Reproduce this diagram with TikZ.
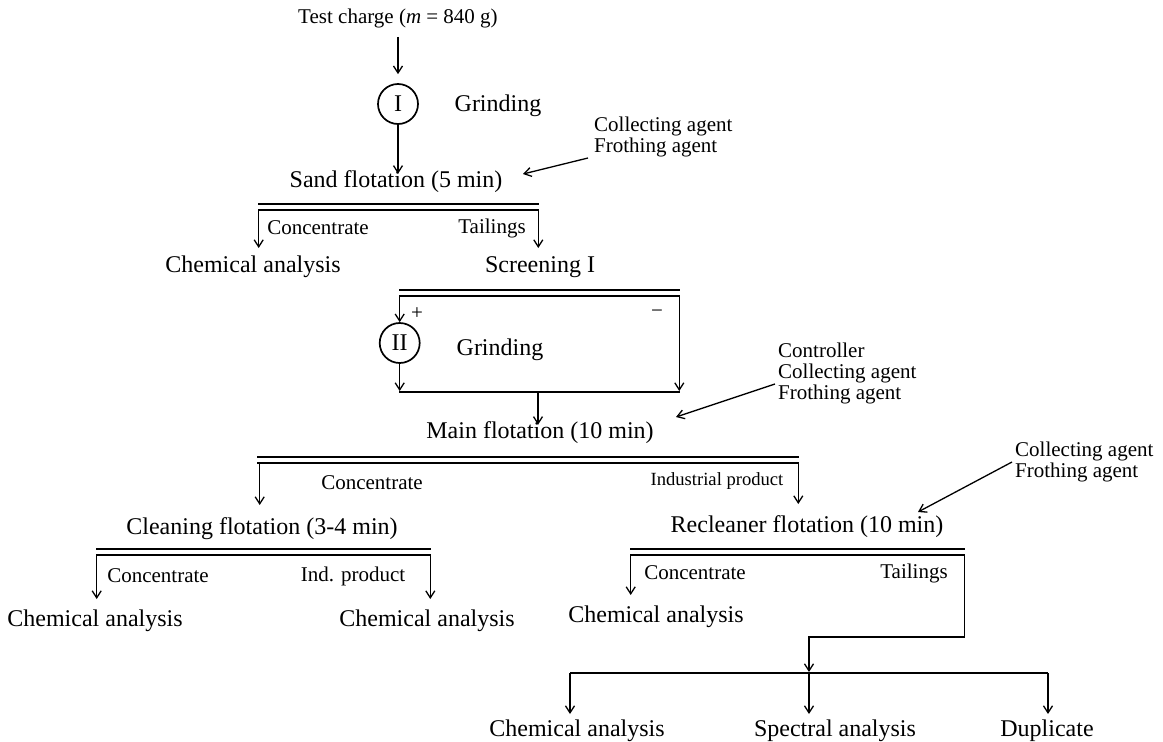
\documentclass[tikz,border=0pt]{standalone}
\usepackage{fontspec}
\setmainfont{Liberation Serif}
\usetikzlibrary{arrows.meta}
\begin{document}
\begin{tikzpicture}[x=1pt,y=-1pt,
  big/.style={font=\fontsize{24}{28}\selectfont, inner sep=0pt},
  lab/.style={font=\fontsize{21}{24}\selectfont, inner sep=0pt},
  labs/.style={font=\fontsize{18.6}{22}\selectfont, inner sep=0pt},
  agent/.style={font=\fontsize{21}{21}\selectfont, inner sep=0pt, align=left, anchor=west},
  flow/.style={line width=1.3pt, -{Straight Barb[length=7pt,width=9pt]}},
  link/.style={line width=1.3pt},
  barA/.style={line width=2.8pt},
  barB/.style={line width=2pt},
  mill/.style={circle, draw, line width=1.7pt, minimum size=40pt, inner sep=0pt, font=\fontsize{24}{28}\selectfont}
]
\useasboundingbox (0,0) rectangle (1163,742);

% ---------- top ----------
\node[lab] (test) at (398,18) {Test charge (\textit{m} = 840 g)};
\node[mill] (m1) at (398,104) {I};
\node[big] (g1) at (498,106) {Grinding};
\node[big] (sand) at (396,182) {Sand flotation (5 min)};
\draw[flow, shorten <=9pt, shorten >=9pt] (test) -- (m1);
\draw[flow, shorten >=-3pt] (m1.south) -- (m1.south |- sand.north);

\node[agent] (ag1) at (594,137) {Collecting agent\\Frothing agent};
\coordinate (ag1s) at (588,158);
\coordinate (ag1t) at (523,174);
\draw[flow] (ag1s) -- (ag1t);

% sand flotation bar
\coordinate (sA1) at (258,204);   \coordinate (sA2) at (539,204);
\coordinate (sB1) at (258,209.5); \coordinate (sB2) at (539,209.5);
\draw[barA] (sA1) -- (sA2);
\draw[barB] (sB1) -- (sB2);
\node[lab] (sc) at (318,228) {Concentrate};
\node[lab] (st) at (492,228) {Tailings};
\node[big] (ca1) at (253,267) {Chemical analysis};
\node[big] (scr) at (540,267) {Screening I};
\coordinate (sLt) at (258.7,248); \coordinate (sRt) at (538.3,248);
\draw[flow] (sLt |- sB1) -- (sLt);
\draw[flow] (sRt |- sB2) -- (sRt);

% screening
\coordinate (kA1) at (399,290);   \coordinate (kA2) at (680,290);
\coordinate (kB1) at (399,295.5); \coordinate (kB2) at (680,295.5);
\draw[barA] (kA1) -- (kA2);
\draw[barB] (kB1) -- (kB2);
\node[mill] (m2) at (399.7,343) {II};
\node[lab] (plus) at (417,314) {+};
\node[lab] (minus) at (657,314) {−};
\node[big] (g2) at (500,350) {Grinding};
\coordinate (kL) at (399.7,295.5);
\coordinate (kR) at (679.3,295.5);
\coordinate (jL) at (399,392);
\coordinate (jR) at (680,392);
\coordinate (jM) at (538,392);
\draw[flow] (kL) -- (m2.north);
\draw[flow] (m2.south) -- ([yshift=1pt]m2.south |- jL);
\draw[link] (jL) -- (jR);
\draw[flow] (kR) -- ([yshift=1pt]kR |- jR);
\node[big] (mainf) at (540,433) {Main flotation (10 min)};
\draw[flow, shorten >=-3pt] (jM) -- (jM |- mainf.north);

\node[agent] (ag2) at (778,373) {Controller\\Collecting agent\\Frothing agent};
\coordinate (ag2s) at (775,384);
\coordinate (ag2t) at (676,417);
\draw[flow] (ag2s) -- (ag2t);

% main flotation bar
\coordinate (mA1) at (257,457);   \coordinate (mA2) at (799,457);
\coordinate (mB1) at (257,462.5); \coordinate (mB2) at (799,462.5);
\draw[barA] (mA1) -- (mA2);
\draw[barB] (mB1) -- (mB2);
\node[lab] (mc) at (372,483) {Concentrate};
\node[labs] (mi) at (717,481) {Industrial product};
\node[big] (clean) at (262,529) {Cleaning flotation (3-4 min)};
\node[big] (recl) at (807,527) {Recleaner flotation (10 min)};
\coordinate (mLt) at (259.7,505); \coordinate (mRt) at (798.3,504);
\draw[flow] (mLt |- mB1) -- (mLt);
\draw[flow] (mRt |- mB2) -- (mRt);

\node[agent] (ag3) at (1015,462) {Collecting agent\\Frothing agent};
\coordinate (ag3s) at (1012,462);
\coordinate (ag3t) at (918,512);
\draw[flow] (ag3s) -- (ag3t);

% cleaning bar
\coordinate (cA1) at (96,549);   \coordinate (cA2) at (431,549);
\coordinate (cB1) at (96,555);   \coordinate (cB2) at (431,555);
\draw[barA] (cA1) -- (cA2);
\draw[barB] (cB1) -- (cB2);
\node[lab] (cc) at (158,576) {Concentrate};
\node[lab] (ci) at (353,576) {Ind. product};
\node[big] (ca2) at (95,621) {Chemical analysis};
\node[big] (ca3) at (427,621) {Chemical analysis};
\coordinate (cLt) at (96.7,599); \coordinate (cRt) at (430.3,599);
\draw[flow] (cLt |- cB1) -- (cLt);
\draw[flow] (cRt |- cB2) -- (cRt);

% recleaner bar
\coordinate (rA1) at (630,549);   \coordinate (rA2) at (965,549);
\coordinate (rB1) at (630,554.5); \coordinate (rB2) at (965,554.5);
\draw[barA] (rA1) -- (rA2);
\draw[barB] (rB1) -- (rB2);
\node[lab] (rc) at (695,573) {Concentrate};
\node[lab] (rt) at (914,573) {Tailings};
\node[big] (ca4) at (656,617) {Chemical analysis};
\coordinate (rLt) at (630.7,595);
\draw[flow] (rLt |- rB1) -- (rLt);
\coordinate (rR) at (964.3,554.5);
\coordinate (rTurn) at (964.3,637);
\coordinate (dTop) at (809,637);

% distribution
\coordinate (dL) at (570,673);
\coordinate (dM) at (809,673);
\coordinate (dR) at (1048,673);
\draw[flow] (rR) -- (rTurn) -- (dTop) -- ([yshift=1pt]dM);
\draw[link] (dL) -- (dR);
\node[big] (ca5) at (577,731) {Chemical analysis};
\node[big] (spec) at (835,731) {Spectral analysis};
\node[big] (dup) at (1047,731) {Duplicate};
\draw[flow] (dL) -- ([yshift=17pt]dL |- ca5.center);
\draw[flow] (dM) -- ([yshift=17pt]dM |- spec.center);
\draw[flow] (dR) -- ([yshift=17pt]dR |- dup.center);
\end{tikzpicture}
\end{document}
